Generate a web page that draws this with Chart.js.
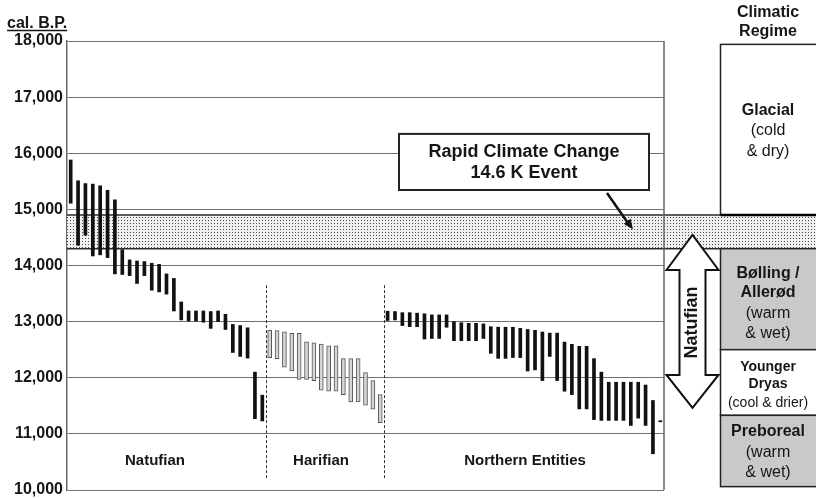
<!DOCTYPE html>
<html>
<head>
<meta charset="utf-8">
<title>Natufian dates and climatic regime</title>
<script src="https://cdn.jsdelivr.net/npm/chart.js@4.4.1/dist/chart.umd.min.js"></script>
<style>
  html, body { margin: 0; padding: 0; background: #fff; }
  #wrap { width: 816px; height: 498px; }
</style>
</head>
<body>
<div id="wrap"><canvas id="chart" width="816" height="498"></canvas></div>
<script>
// ---------- data (cal. B.P. ranges) ----------
var natufianTop    = [15880, 15510, 15460, 15450, 15420, 15340, 15170, 14280, 14100, 14080, 14070, 14040, 14020, 13850,
                      13770, 13350, 13190, 13190, 13190, 13180, 13190, 13130, 12950, 12930, 12890, 12100, 11690];
var natufianBottom = [15110, 14360, 14540, 14170, 14190, 14140, 13850, 13840, 13820, 13680, 13820, 13560, 13530, 13490,
                      13190, 13030, 13010, 13010, 12990, 12880, 13000, 12860, 12450, 12380, 12350, 11270, 11230];

var harifianTop    = [12850, 12840, 12820, 12790, 12790, 12640, 12620, 12600, 12570, 12570, 12340, 12340, 12340, 12090, 11950, 11700];
var harifianBottom = [12360, 12340, 12190, 12120, 11970, 11970, 11950, 11780, 11760, 11760, 11700, 11570, 11570, 11510, 11440, 11200];

var northernTop    = [13185, 13180, 13160, 13160, 13150, 13140, 13120, 13120, 13120, 13000, 12980, 12970, 12970, 12960,
                      12910, 12900, 12900, 12900, 12880, 12860, 12845, 12815, 12795, 12795, 12635, 12595, 12560, 12560,
                      12340, 12100, 11920, 11920, 11920, 11920, 11920, 11870, 11595, 11235];
var northernBottom = [13020, 13030, 12930, 12910, 12910, 12690, 12700, 12700, 12900, 12660, 12660, 12660, 12660, 12700,
                      12435, 12345, 12345, 12360, 12360, 12120, 12140, 11950, 12380, 11950, 11760, 11700, 11445, 11445,
                      11255, 11240, 11240, 11240, 11240, 11150, 11280, 11150, 10645, 11215];

var groupNames = ["Natufian", "Harifian", "Northern Entities"];
var yTicks = [10000, 11000, 12000, 13000, 14000, 15000, 16000, 17000, 18000];

var eventBand = [14300, 14900];            // 14.6 K event
var calloutRange = [15345, 16345];         // "Rapid Climate Change" box
var natufianSpan = [11465, 14545];         // double arrow tips
var natufianHeads = [12050, 13920];        // arrow head bases
var regimeNames = [["Glacial", "(cold", "& dry)"], ["Bølling /", "Allerød", "(warm", "& wet)"],
                   ["Younger", "Dryas", "(cool & drier)"], ["Preboreal", "(warm", "& wet)"]];
var regimeTop    = [17940, 14300, 12500, 11330];
var regimeBottom = [14900, 12500, 11330, 10060];

// ---------- datasets ----------
var total = natufianTop.length + harifianTop.length + northernTop.length;
var labels = [];
for (var i = 0; i < total; i++) labels.push(String(i + 1));

function serie(offset, tops, bottoms) {
  var d = [];
  for (var k = 0; k < total; k++) d.push(null);
  for (var j = 0; j < tops.length; j++) d[offset + j] = [bottoms[j], tops[j]];
  return d;
}
var offHar = natufianTop.length, offNor = offHar + harifianTop.length;

var FONT = "'Liberation Sans', Arial, sans-serif";
var INK = "#161616";

function dotPattern(ctx) {
  var c = document.createElement("canvas");
  c.width = 3; c.height = 3;
  var g = c.getContext("2d");
  g.fillStyle = "#f0f0f0"; g.fillRect(0, 0, 3, 3);
  g.fillStyle = "#4a4a4a"; g.fillRect(1, 1, 1, 1);
  return ctx.createPattern(c, "repeat");
}

function texto(ctx, s, x, y, size, bold) {
  ctx.font = (bold ? "bold " : "") + size + "px " + FONT;
  ctx.fillStyle = INK;
  ctx.textAlign = "center";
  ctx.textBaseline = "middle";
  ctx.fillText(s, x, y);
}

var REG_LEFT = 720;

var cena = {
  id: "cena",
  beforeDatasetsDraw: function (chart) {
    var ctx = chart.ctx, a = chart.chartArea, y = chart.scales.y, x = chart.scales.x;
    var W = chart.width;
    ctx.save();
    // event band
    var yt = y.getPixelForValue(eventBand[1]), yb = y.getPixelForValue(eventBand[0]);
    ctx.fillStyle = dotPattern(ctx);
    ctx.fillRect(a.left, yt, W - a.left, yb - yt);
    ctx.strokeStyle = "#2a2a2a"; ctx.lineWidth = 1.5;
    ctx.beginPath();
    ctx.moveTo(a.left, yt); ctx.lineTo(W, yt);
    ctx.moveTo(a.left, yb); ctx.lineTo(W, yb);
    ctx.stroke();
    // group separators
    ctx.strokeStyle = "#333"; ctx.lineWidth = 1; ctx.setLineDash([3, 2]);
    [offHar, offNor].forEach(function (idx) {
      var xx = Math.round((x.getPixelForValue(idx - 1) + x.getPixelForValue(idx)) / 2) + 0.5;
      ctx.beginPath();
      ctx.moveTo(xx, y.getPixelForValue(13650));
      ctx.lineTo(xx, y.getPixelForValue(10180));
      ctx.stroke();
    });
    ctx.restore();
  },
  afterDatasetsDraw: function (chart) {
    var ctx = chart.ctx, a = chart.chartArea, y = chart.scales.y;
    var W = chart.width;
    ctx.save();
    // right frame
    ctx.strokeStyle = "#666"; ctx.lineWidth = 1.5;
    ctx.beginPath(); ctx.moveTo(a.right, a.top); ctx.lineTo(a.right, a.bottom); ctx.stroke();

    // group labels
    var gy = y.getPixelForValue(10520);
    texto(ctx, groupNames[0], 155, gy, 15, true);
    texto(ctx, groupNames[1], 321, gy, 15, true);
    texto(ctx, groupNames[2], 525, gy, 15, true);

    // callout
    var cTop = y.getPixelForValue(calloutRange[1]), cBot = y.getPixelForValue(calloutRange[0]);
    ctx.fillStyle = "#fff"; ctx.fillRect(399, cTop, 250, cBot - cTop);
    ctx.strokeStyle = "#222"; ctx.lineWidth = 2;
    ctx.strokeRect(399, cTop, 250, cBot - cTop);
    texto(ctx, "Rapid Climate Change", 524, cTop + 18, 18, true);
    texto(ctx, "14.6 K Event", 524, cTop + 39, 18, true);
    // callout arrow
    var x0 = 607, y0 = cBot + 3, x1 = 633, y1 = y.getPixelForValue(14640);
    ctx.strokeStyle = "#111"; ctx.lineWidth = 2.5;
    ctx.beginPath(); ctx.moveTo(x0, y0); ctx.lineTo(x1 - 4, y1 - 5); ctx.stroke();
    var ang = Math.atan2(y1 - y0, x1 - x0);
    ctx.fillStyle = "#111";
    ctx.beginPath();
    ctx.moveTo(x1, y1);
    ctx.lineTo(x1 - 11 * Math.cos(ang - 0.4), y1 - 11 * Math.sin(ang - 0.4));
    ctx.lineTo(x1 - 11 * Math.cos(ang + 0.4), y1 - 11 * Math.sin(ang + 0.4));
    ctx.closePath(); ctx.fill();

    // Natufian double arrow
    var cx = (a.right + REG_LEFT) / 2 + 0.5;
    var tTop = y.getPixelForValue(natufianSpan[1]), tBot = y.getPixelForValue(natufianSpan[0]);
    var hTop = y.getPixelForValue(natufianHeads[1]), hBot = y.getPixelForValue(natufianHeads[0]);
    var hw = 26, sw = 13;
    ctx.beginPath();
    ctx.moveTo(cx, tTop);
    ctx.lineTo(cx + hw, hTop); ctx.lineTo(cx + sw, hTop);
    ctx.lineTo(cx + sw, hBot); ctx.lineTo(cx + hw, hBot);
    ctx.lineTo(cx, tBot);
    ctx.lineTo(cx - hw, hBot); ctx.lineTo(cx - sw, hBot);
    ctx.lineTo(cx - sw, hTop); ctx.lineTo(cx - hw, hTop);
    ctx.closePath();
    ctx.fillStyle = "#fff"; ctx.fill();
    ctx.strokeStyle = "#111"; ctx.lineWidth = 2; ctx.lineJoin = "miter"; ctx.stroke();
    ctx.save();
    ctx.translate(cx, (hTop + hBot) / 2);
    ctx.rotate(-Math.PI / 2);
    texto(ctx, "Natufian", 0, 0, 18, true);
    ctx.restore();

    // climatic regime column
    var fills = ["#fff", "#c9c9c9", "#fff", "#c9c9c9"];
    var rx = REG_LEFT + 0.5, rw = W - REG_LEFT + 4;
    for (var r = 0; r < regimeTop.length; r++) {
      var t = y.getPixelForValue(regimeTop[r]), b = y.getPixelForValue(regimeBottom[r]);
      ctx.fillStyle = fills[r]; ctx.fillRect(rx, t, rw, b - t);
      ctx.strokeStyle = "#222"; ctx.lineWidth = 1.5; ctx.strokeRect(rx, t, rw, b - t);
    }
    ctx.strokeStyle = "#000"; ctx.lineWidth = 2.5;
    var gb = y.getPixelForValue(regimeBottom[0]);
    ctx.beginPath(); ctx.moveTo(rx, gb); ctx.lineTo(W, gb); ctx.stroke();

    var mid = 768;
    texto(ctx, "Climatic", mid, 13, 16, true);
    texto(ctx, "Regime", mid, 32, 16, true);
    texto(ctx, regimeNames[0][0], mid, 111, 16, true);
    texto(ctx, regimeNames[0][1], mid, 131, 16, false);
    texto(ctx, regimeNames[0][2], mid, 152, 16, false);
    texto(ctx, regimeNames[1][0], mid, 274, 16, true);
    texto(ctx, regimeNames[1][1], mid, 293, 16, true);
    texto(ctx, regimeNames[1][2], mid, 314, 16, false);
    texto(ctx, regimeNames[1][3], mid, 334, 16, false);
    texto(ctx, regimeNames[2][0], mid, 367, 14, true);
    texto(ctx, regimeNames[2][1], mid, 384, 14, true);
    texto(ctx, regimeNames[2][2], mid, 403, 14, false);
    texto(ctx, regimeNames[3][0], mid, 432, 16, true);
    texto(ctx, regimeNames[3][1], mid, 453, 16, false);
    texto(ctx, regimeNames[3][2], mid, 473, 16, false);

    // axis title, underlined
    ctx.font = "bold 16px " + FONT;
    ctx.fillStyle = INK; ctx.textAlign = "left"; ctx.textBaseline = "alphabetic";
    ctx.fillText("cal. B.P.", 7, 28);
    var tw = ctx.measureText("cal. B.P.").width;
    ctx.strokeStyle = INK; ctx.lineWidth = 1.5;
    ctx.beginPath(); ctx.moveTo(7, 30.5); ctx.lineTo(7 + tw, 30.5); ctx.stroke();
    ctx.restore();
  }
};

new Chart(document.getElementById("chart"), {
  type: "bar",
  data: {
    labels: labels,
    datasets: [
      { label: groupNames[0], data: serie(0, natufianTop, natufianBottom),
        backgroundColor: "#111", borderWidth: 0, barThickness: 3, grouped: false },
      { label: groupNames[1], data: serie(offHar, harifianTop, harifianBottom),
        backgroundColor: "#d4d4d4", borderColor: "#555", borderWidth: 1, borderSkipped: false,
        barThickness: 4, grouped: false },
      { label: groupNames[2], data: serie(offNor, northernTop, northernBottom),
        backgroundColor: "#111", borderWidth: 0, barThickness: 3, grouped: false }
    ]
  },
  options: {
    responsive: false,
    animation: false,
    layout: { padding: { top: 41, right: 152, bottom: 8, left: 0 } },
    plugins: { legend: { display: false }, tooltip: { enabled: false } },
    scales: {
      x: { type: "category", display: false },
      y: {
        min: yTicks[0], max: yTicks[yTicks.length - 1],
        afterBuildTicks: function (s) { s.ticks = yTicks.map(function (v) { return { value: v }; }); },
        afterFit: function (s) { s.width = 67; s.paddingTop = 0; s.paddingBottom = 0; },
        grid: { color: "#707070", lineWidth: 1, drawTicks: false },
        border: { color: "#666", width: 1.5 },
        ticks: {
          padding: 4, color: INK,
          font: { family: FONT, size: 16, weight: "bold" },
          callback: function (v) { return Number(v).toLocaleString("en-US"); }
        }
      }
    }
  },
  plugins: [cena]
});
</script>
</body>
</html>
